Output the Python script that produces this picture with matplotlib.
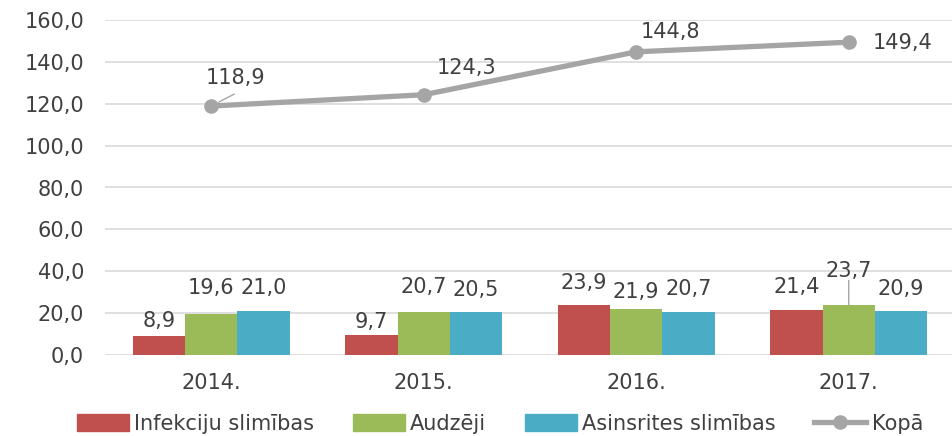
import matplotlib
matplotlib.use("Agg")
import matplotlib.pyplot as plt
from matplotlib.patches import Patch
from matplotlib.lines import Line2D

years = ["2014.", "2015.", "2016.", "2017."]
infekciju = [8.9, 9.7, 23.9, 21.4]
audzeji = [19.6, 20.7, 21.9, 23.7]
asinsrites = [21.0, 20.5, 20.7, 20.9]
kopa = [118.9, 124.3, 144.8, 149.4]
series_names = ["Infekciju slimības", "Audzēji", "Asinsrites slimības", "Kopā"]
yticks = [0, 20, 40, 60, 80, 100, 120, 140, 160]

c_red = "#C0504D"
c_green = "#9BBB59"
c_blue = "#4BACC6"
c_gray = "#A5A5A5"
c_text = "#404040"
fs = 15

plt.rcParams['font.family'] = ['DejaVu Sans']

fig = plt.figure(figsize=(9.53, 4.36), dpi=100)
ax = fig.add_axes([105/953, 81/436, (955-105)/953, 335/436])

x = list(range(len(years)))
w = 0.246
bar_sets = [(infekciju, c_red, -w), (audzeji, c_green, 0), (asinsrites, c_blue, w)]
# label offsets (pixels above bar top)
bar_label_off = [
    [15, 13, 22, 23],
    [26, 25, 17, 34],
    [23, 22, 23, 22],
]
for si, (vals, col, dx) in enumerate(bar_sets):
    xs = [xi + dx for xi in x]
    ax.bar(xs, vals, width=w, color=col, zorder=2)
    for j, (xx, v) in enumerate(zip(xs, vals)):
        off = bar_label_off[si][j]
        ax.annotate(f"{v:.1f}".replace(".", ","), (xx, v), xytext=(0, off),
                    textcoords="offset pixels", ha="center", va="center",
                    fontsize=fs, color=c_text, zorder=5)
# leader line for 2017 Audzēji
ax.annotate("", (x[3], audzeji[3]), xytext=(0, 25), textcoords="offset pixels",
            arrowprops=dict(arrowstyle="-", color="#A6A6A6", lw=1, shrinkA=0, shrinkB=0))

ax.plot(x, kopa, color=c_gray, lw=3.8, marker="o", markersize=9.5, zorder=4,
        solid_capstyle="round")
line_off = [(24, 28), (43, 27), (34, 20), (54, -1)]
for j, (xx, v) in enumerate(zip(x, kopa)):
    ax.annotate(f"{v:.1f}".replace(".", ","), (xx, v), xytext=line_off[j],
                textcoords="offset pixels", ha="center", va="center",
                fontsize=fs, color=c_text, zorder=5)
ax.annotate("", (x[0], kopa[0]), xytext=(23, 12), textcoords="offset pixels",
            arrowprops=dict(arrowstyle="-", color="#A6A6A6", lw=1, shrinkA=0, shrinkB=6))

ax.set_xlim(-0.5, 3.5)
ax.set_ylim(0, 160)
ax.set_yticks(yticks)
ax.set_yticklabels([f"{t:.1f}".replace(".", ",") for t in yticks])
ax.set_xticks(x)
ax.set_xticklabels(years)
ax.tick_params(axis="both", length=0, labelsize=fs, colors=c_text)
ax.tick_params(axis="y", pad=15)
ax.tick_params(axis="x", pad=13)
ax.grid(axis="y", color="#D9D9D9", lw=1.2, zorder=0)
ax.set_axisbelow(True)
for s in ax.spines.values():
    s.set_visible(False)

handles = [
    Patch(color=c_red), Patch(color=c_green), Patch(color=c_blue),
    Line2D([], [], color=c_gray, lw=3.8, marker="o", markersize=9.5),
]
leg = fig.legend(handles, series_names, loc="center", ncol=4,
                 bbox_to_anchor=(500/953, 12/436), frameon=False, fontsize=fs,
                 handlelength=2.5, handleheight=0.85, handletextpad=0.25,
                 columnspacing=1.85, borderaxespad=0, borderpad=0)
for t in leg.get_texts():
    t.set_color(c_text)

fig.savefig("out.png", dpi=100)
